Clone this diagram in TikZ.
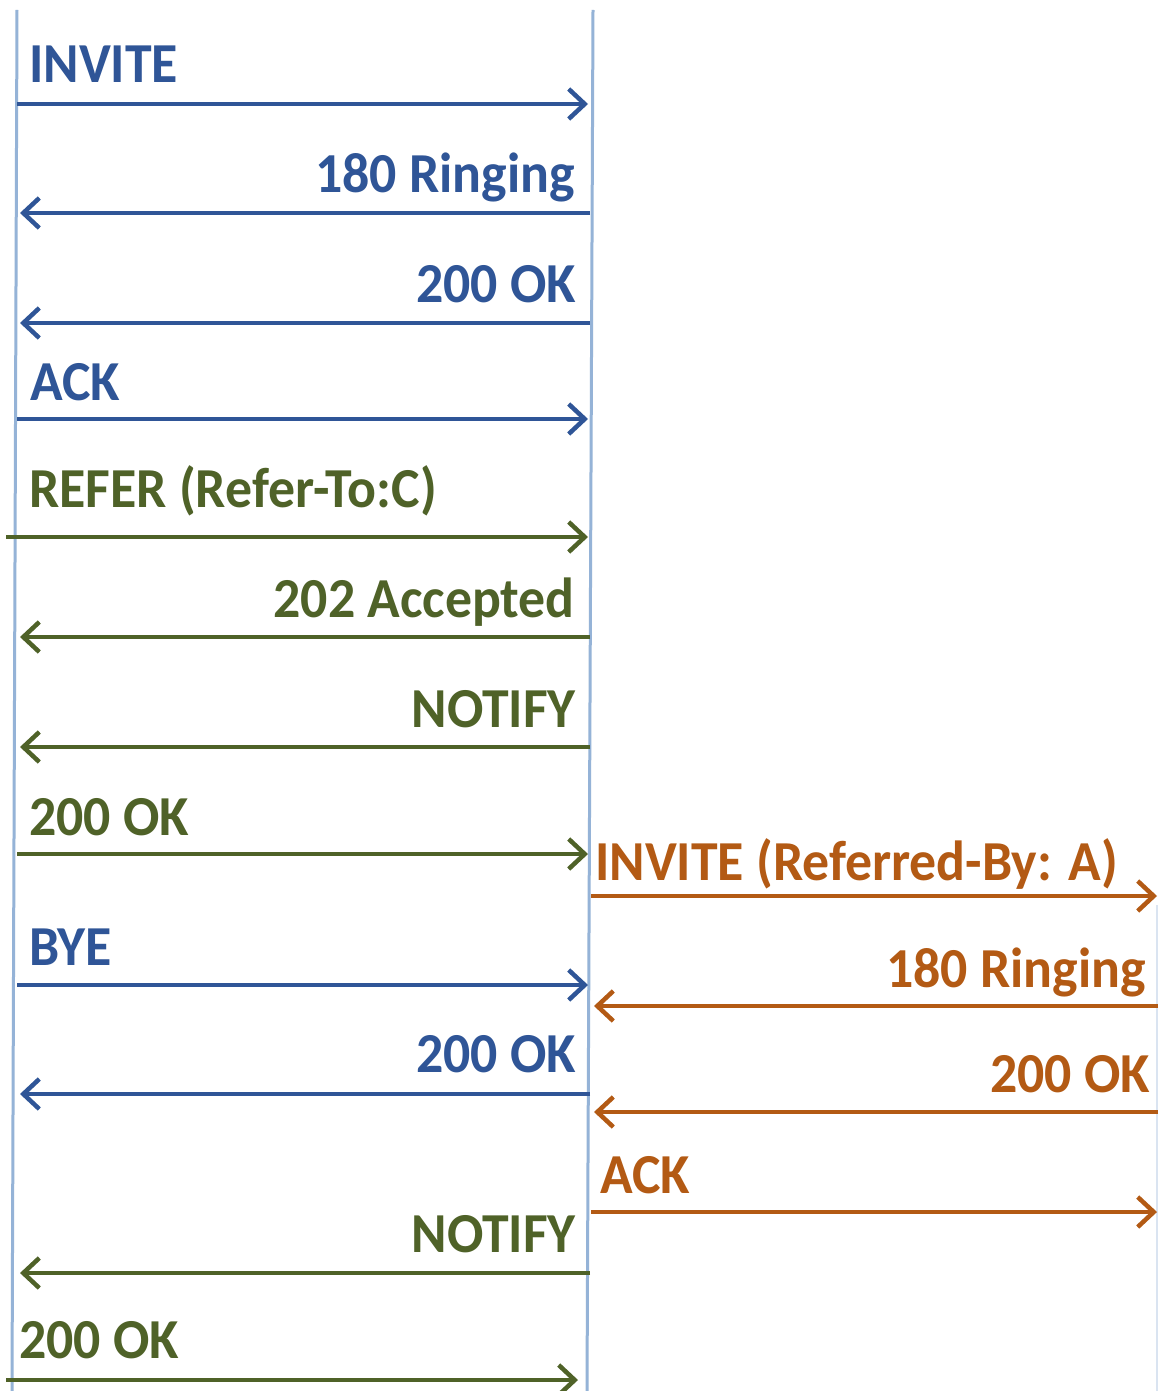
\documentclass[tikz,border=0pt]{standalone}
\usepackage{fontspec}
\usepackage{graphicx}
\setmainfont{Carlito}
\usetikzlibrary{arrows.meta}
\definecolor{msgblue}{HTML}{2F5597}
\definecolor{msggreen}{HTML}{4F6228}
\definecolor{msgorange}{HTML}{B35A14}
\definecolor{lifeblue}{HTML}{95B3D7}
\newcommand\msgtext[1]{\scalebox{1}[1.05]{#1}}
\begin{document}
\begin{tikzpicture}[x=1bp,y=-1bp,
  lifeline/.style={draw=lifeblue, line width=3bp},
  msg/.style={line width=4.5bp, -{Straight Barb[length=16bp,width=30bp]}},
  lbl/.style={inner sep=0pt, font=\fontsize{54}{60}\selectfont\bfseries},
  lw/.style={lbl, anchor=base west},
  le/.style={lbl, anchor=base east}]
\useasboundingbox[fill=white] (0,0) rectangle (1158,1391);

% lifelines
\coordinate (LA1) at (17,10);   \coordinate (LA2) at (12,1391);
\coordinate (LB1) at (593,10);  \coordinate (LB2) at (587,1391);
\coordinate (LC1) at (1157,905); \coordinate (LC2) at (1157,1391);
\draw[lifeline] (LA1) -- (LA2);
\draw[lifeline] (LB1) -- (LB2);
\draw[draw=lifeblue!35, line width=1.5bp] (LC1) -- (LC2);

% message end points
\coordinate (m1s) at (17,104);   \coordinate (m1e) at (588,104);
\coordinate (m2s) at (590,213);  \coordinate (m2e) at (20,213);
\coordinate (m3s) at (590,323);  \coordinate (m3e) at (20,323);
\coordinate (m4s) at (17,419);   \coordinate (m4e) at (588,419);
\coordinate (m5s) at (6,537);    \coordinate (m5e) at (588,537);
\coordinate (m6s) at (590,637);  \coordinate (m6e) at (20,637);
\coordinate (m7s) at (590,747);  \coordinate (m7e) at (20,747);
\coordinate (m8s) at (17,854);   \coordinate (m8e) at (588,854);
\coordinate (m9s) at (591,896);  \coordinate (m9e) at (1157,896);
\coordinate (m10s) at (17,985);  \coordinate (m10e) at (588,985);
\coordinate (m11s) at (1158,1006); \coordinate (m11e) at (594,1006);
\coordinate (m12s) at (590,1094); \coordinate (m12e) at (20,1094);
\coordinate (m13s) at (1158,1112); \coordinate (m13e) at (594,1112);
\coordinate (m14s) at (591,1212); \coordinate (m14e) at (1157,1212);
\coordinate (m15s) at (590,1273); \coordinate (m15e) at (20,1273);
\coordinate (m16s) at (6,1380);  \coordinate (m16e) at (578,1380);

% messages
\draw[msg, msgblue]   (m1s) -- (m1e);
\draw[msg, msgblue]   (m2s) -- (m2e);
\draw[msg, msgblue]   (m3s) -- (m3e);
\draw[msg, msgblue]   (m4s) -- (m4e);
\draw[msg, msggreen]  (m5s) -- (m5e);
\draw[msg, msggreen]  (m6s) -- (m6e);
\draw[msg, msggreen]  (m7s) -- (m7e);
\draw[msg, msggreen]  (m8s) -- (m8e);
\draw[msg, msgorange] (m9s) -- (m9e);
\draw[msg, msgblue]   (m10s) -- (m10e);
\draw[msg, msgorange] (m11s) -- (m11e);
\draw[msg, msgblue]   (m12s) -- (m12e);
\draw[msg, msgorange] (m13s) -- (m13e);
\draw[msg, msgorange] (m14s) -- (m14e);
\draw[msg, msggreen]  (m15s) -- (m15e);
\draw[msg, msggreen]  (m16s) -- (m16e);

% labels
\node[lw, text=msgblue]   (t1)  at (29,83)    {\msgtext{INVITE}};
\node[le, text=msgblue]   (t2)  at (575,193)  {\msgtext{180 Ringing}};
\node[le, text=msgblue]   (t3)  at (576,302)  {\msgtext{200 OK}};
\node[lw, text=msgblue]   (t4)  at (30,400)   {\msgtext{ACK}};
\node[lw, text=msggreen]  (t5)  at (29,507)   {\msgtext{REFER (Refer-To:C)}};
\node[le, text=msggreen]  (t6)  at (575,617)  {\msgtext{202 Accepted}};
\node[le, text=msggreen]  (t7)  at (576,727)  {\msgtext{NOTIFY}};
\node[lw, text=msggreen]  (t8)  at (29,835)   {\msgtext{200 OK}};
\node[lw, text=msgorange] (t9)  at (595,880)  {\msgtext{INVITE (Referred-By: A)}};
\node[lw, text=msgblue]   (t10) at (29,965)   {\msgtext{BYE}};
\node[le, text=msgorange] (t11) at (1146,987) {\msgtext{180 Ringing}};
\node[le, text=msgblue]   (t12) at (576,1072) {\msgtext{200 OK}};
\node[le, text=msgorange] (t13) at (1150,1092) {\msgtext{200 OK}};
\node[lw, text=msgorange] (t14) at (600,1193) {\msgtext{ACK}};
\node[le, text=msggreen]  (t15) at (576,1252) {\msgtext{NOTIFY}};
\node[lw, text=msggreen]  (t16) at (19,1358)  {\msgtext{200 OK}};
\end{tikzpicture}
\end{document}
